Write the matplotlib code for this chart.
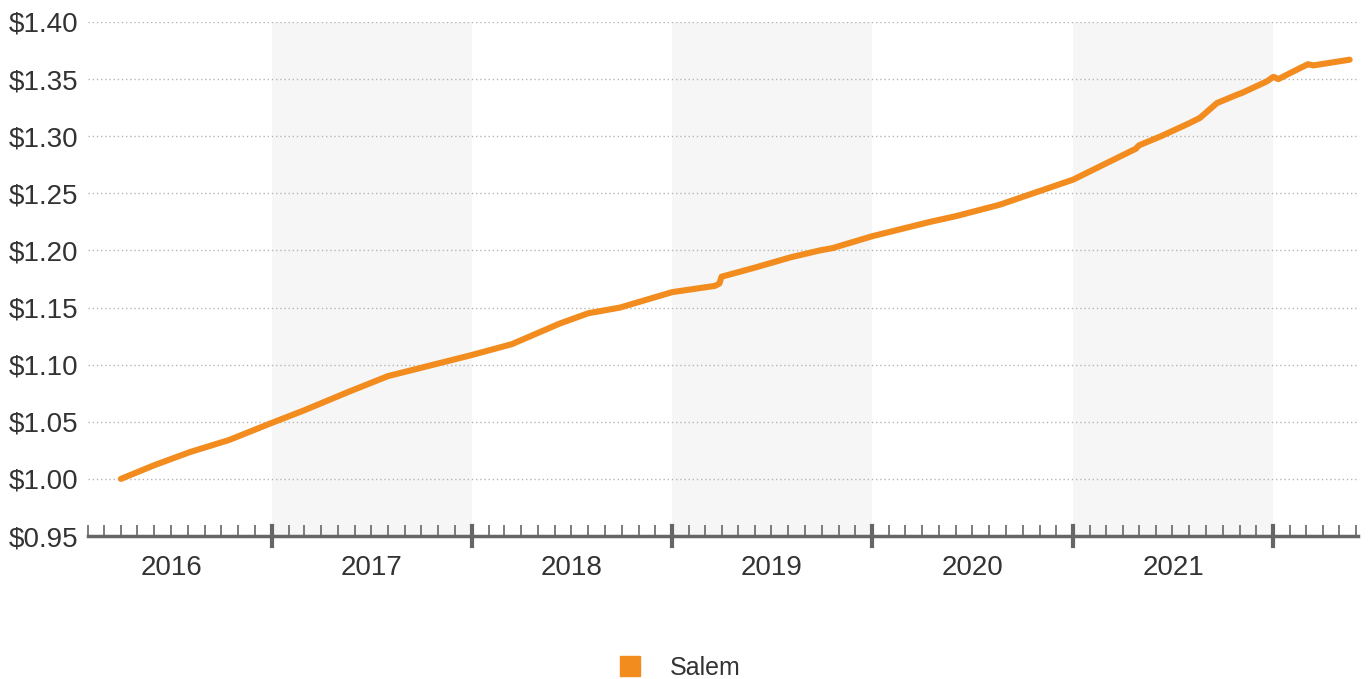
import pandas as pd
import matplotlib.pyplot as plt
import matplotlib.dates as mdates
from matplotlib.lines import Line2D

plt.rcParams['font.family'] = ['Liberation Sans', 'DejaVu Sans']

# Salem series
dates = ['2016-04-01', '2016-06-01', '2016-08-05', '2016-10-15', '2017-01-01',
         '2017-03-01', '2017-05-20', '2017-08-01', '2017-09-28', '2018-01-01',
         '2018-03-15', '2018-06-10', '2018-08-01', '2018-09-28', '2019-01-01',
         '2019-03-20', '2019-03-28', '2019-04-01', '2019-06-01', '2019-08-05',
         '2019-09-27', '2019-10-20', '2020-01-01', '2020-04-15', '2020-06-01',
         '2020-08-20', '2020-11-01', '2021-01-01', '2021-03-01', '2021-04-25',
         '2021-05-01', '2021-06-10', '2021-07-30', '2021-08-20', '2021-09-20',
         '2021-10-25', '2021-11-05', '2021-12-20', '2022-01-01', '2022-01-10',
         '2022-02-20', '2022-03-05', '2022-03-15', '2022-05-20']
values = [1.000, 1.012, 1.0235, 1.034, 1.049,
          1.060, 1.076, 1.090, 1.097, 1.1085,
          1.118, 1.136, 1.145, 1.150, 1.1635,
          1.169, 1.171, 1.177, 1.185, 1.194,
          1.200, 1.202, 1.2125, 1.225, 1.230,
          1.240, 1.252, 1.262, 1.276, 1.289,
          1.292, 1.300, 1.311, 1.316, 1.329,
          1.336, 1.338, 1.348, 1.352, 1.350,
          1.360, 1.363, 1.362, 1.367]

years = [2016, 2017, 2018, 2019, 2020, 2021]
yticks = [0.95, 1.00, 1.05, 1.10, 1.15, 1.20, 1.25, 1.30, 1.35, 1.40]

orange = '#f28c1e'
grey = '#666666'

df = pd.DataFrame({'date': pd.to_datetime(dates), 'value': values})

fig = plt.figure(figsize=(13.68, 6.79), dpi=100)
ax = fig.add_axes([0.0643, 0.2106, 0.9287, 0.757])

# alternating year bands
for y in years[1::2]:
    ax.axvspan(pd.Timestamp(f'{y}-01-01'), pd.Timestamp(f'{y + 1}-01-01'),
               color='#f6f6f6', zorder=0, lw=0)

for v in yticks[1:]:
    ax.axhline(v, color='#b5b5b5', lw=1, ls=(0, (1, 2)), zorder=1)

ax.plot(df['date'], df['value'], color=orange, lw=4.4, solid_capstyle='round',
        solid_joinstyle='round', zorder=3)

ax.set_xlim(pd.Timestamp('2016-02-01'), pd.Timestamp('2022-06-05'))
ax.set_ylim(0.95, 1.40)
ax.set_yticks(yticks)
ax.set_yticklabels([f'${v:.2f}' for v in yticks])

ax.xaxis.set_minor_locator(mdates.MonthLocator())
ax.set_xticks([pd.Timestamp(f'{y}-07-02') for y in years], minor=False)
ax.set_xticklabels([str(y) for y in years])
ax.tick_params(axis='x', which='major', length=0, pad=14, labelsize=20, labelcolor='#333333')
for y in years[1:] + [2022]:
    ax.plot([pd.Timestamp(f'{y}-01-01')] * 2, [0.95 - 0.009, 0.95 + 0.009],
            color=grey, lw=3, clip_on=False, zorder=4)
ax.tick_params(axis='x', which='minor', direction='in', length=8, width=1.2, color=grey)
ax.tick_params(axis='y', length=0, pad=7, labelsize=20, labelcolor='#333333')

for s in ['top', 'right', 'left']:
    ax.spines[s].set_visible(False)
ax.spines['bottom'].set_color(grey)
ax.spines['bottom'].set_linewidth(2.5)

handle = Line2D([], [], color=orange, marker='s', ls='none', markersize=14)
fig.legend([handle], ['Salem'], loc='center', bbox_to_anchor=(0.492, 0.016),
           frameon=False, fontsize=18, handletextpad=0.6, labelcolor='#333333')

plt.savefig('out.png', dpi=100)
